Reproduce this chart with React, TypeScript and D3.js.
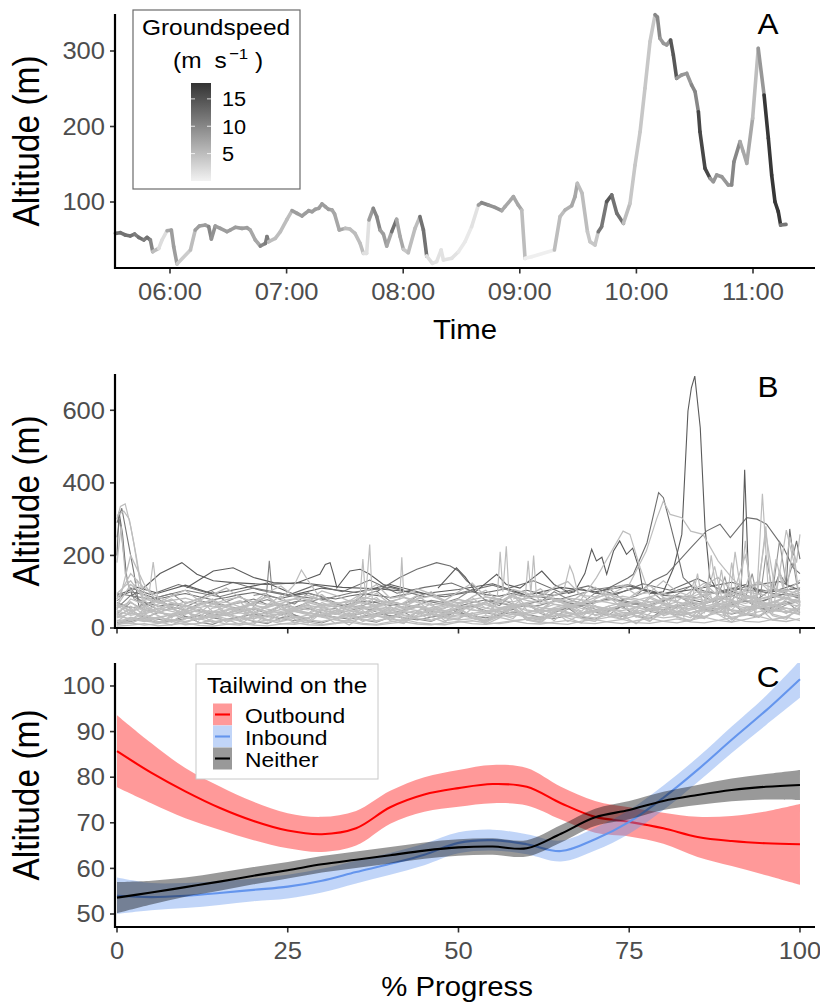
import React from 'react';
import * as d3 from 'd3';

const FONT = '"Liberation Sans", Arial, Helvetica, sans-serif';
const SX = 1.087;

// ---------------- Panel A : altitude over time (minutes after midnight) -------------
const A_TIME = [331.9,334.4,337.0,339.6,341.8,343.9,346.5,348.2,349.9,351.1,
354.2,355.9,358.5,360.7,361.9,363.6,370.5,373.0,375.1,378.2,
379.9,381.3,383.3,385.9,389.3,391.0,393.6,397.0,399.6,401.3,
403.9,406.5,409.1,409.9,410.8,414.2,416.8,420.2,422.8,425.4,
427.9,429.6,431.4,433.1,434.8,436.5,438.2,439.9,441.6,443.4,
444.7,447.1,450.1,452.6,455.2,457.8,459.5,461.2,462.4,464.6,
466.4,468.1,469.8,471.5,474.1,476.6,478.4,480.1,482.6,486.1,
488.6,490.4,492.1,495.0,497.2,499.5,500.7,505.0,508.4,511.8,
515.2,518.7,520.4,523.8,527.2,530.7,532.4,536.7,539.2,541.0,
542.7,546.1,557.8,560.7,563.3,566.7,568.4,569.6,572.0,574.8,
576.1,578.7,580.4,582.1,584.7,587.3,589.9,593.3,596.7,599.3,
601.9,604.4,607.0,609.6,610.8,612.1,613.9,615.6,617.6,619.0,
620.7,623.3,625.9,628.4,630.2,631.9,632.7,635.3,637.9,639.6,
641.3,643.9,647.3,649.0,650.2,653.3,655.0,656.8,659.8,662.7,
665.7,667.9,669.6,671.3,673.0,674.2,677.0];
const A_ALT = [58.5,59.4,56.3,55,57.6,53.2,49.7,53.2,49.7,34.2,
38.6,49.7,62,62.9,40.8,17.9,36.4,62.9,68.2,69.5,
67.3,51,68.2,65.1,60.7,62.9,66.5,65.1,66,62.9,
49.7,41.7,45.3,54.1,47.5,51.9,60.7,77,88.5,85,
81.5,85,88.5,87.2,90.3,91.6,97.4,93.8,90.3,89.4,
84.1,62.9,65.1,64.2,58.5,45.3,32,32,76.2,91.6,
80.6,62.9,57.6,41.7,60.7,77,54.1,37.3,32.9,65.1,
80.6,62.9,28.5,18.8,21,36.4,23.2,25.4,34.2,47.5,
67.3,96,99.1,96,92.9,88.5,93.8,107.1,96,89.4,
25.4,27.6,36.4,80.6,89.4,95.1,107.1,124.7,112,60.7,
47.5,43,60.7,67.3,100.4,109.3,85,71.7,98.2,149,
193.1,250.6,312.4,348,345,316.8,310.2,308,314.6,294.7,
263.8,268.2,270.4,255,246.1,219.6,193.1,144.6,131.4,126.9,
135.8,133.5,122.5,122.5,153.4,179.9,166.6,151.2,210.8,303.5,
241.7,184.3,135.8,100.4,87.2,69.5,70.4];
const A_SPEED = [12,12,12,12,11,12,11,12,10,5,
2,2,7,8,8,3.6,5,8,8,8,
10,9,8,8,8,8,8,8,8,7,
7,10,11,11,5,5,5,5,8,8,
8,8,8,8,8,8,8,8,8,7,
7,7,5,5,5,5,1.7,1.7,8,10,
10,8,8,7,12,7,7,4,5,5,
12,12,2,1.5,1.5,1.5,1.5,1.5,0.8,0.8,
1.5,8,10,9,9,7,7,7,7,5,
0.3,0.3,5,5,6,7,7,5,5,4,
4,4,11.5,11.5,14.5,12,12,5,4,4,
4,4,4,10,10,8.5,8.5,8.5,14.5,14.5,
8.5,8.5,8.5,10,10,16,16,16,8.5,8.5,
8.5,8.5,8.5,10,10,7,7,7,5,8.5,
17.5,17.5,17.5,17.5,17.5,11.5,11.5];
const A_XTICKS = [360, 420, 480, 540, 600, 660];
const A_XLABELS = ['06:00', '07:00', '08:00', '09:00', '10:00', '11:00'];
const A_YTICKS = [100, 200, 300];
const SPEED_TICKS = [5, 10, 15];

// ---------------- Panel B : all tracks, altitude vs % progress (every 2 %) ----------
const BG1 = [45,60,38,52,70,44,30,55,62,48,40,58,66,50,42,35,48,60,72,55,40,46,58,50,38,44,62,70,54,46,40,52,65,58,44,36,50,64,75,60,48,42,55,68,80,62,50,58,72,85,70];
const BG2 = [20,25,18,30,22,15,28,35,26,20,32,24,18,27,36,30,22,19,28,33,25,20,30,38,28,22,26,34,29,21,24,31,40,33,27,23,30,36,44,35,28,32,40,48,38,30,35,45,52,44,40];
const BG3 = [70,55,62,80,58,50,66,74,60,54,68,78,64,57,70,82,66,58,62,75,68,56,64,76,70,60,58,72,80,66,59,63,74,68,61,70,84,72,65,60,75,88,70,66,78,92,74,68,85,95,80];
const BG4 = [10,14,8,12,18,9,13,20,11,8,15,22,12,10,16,9,14,21,13,10,17,24,15,11,9,16,20,14,12,18,25,17,13,10,19,23,16,12,20,27,18,14,22,30,21,16,24,32,22,18,26];
const BG5 = [35,80,65,42,38,50,44,36,48,56,42,38,52,46,40,55,62,48,42,50,58,45,40,48,56,62,50,44,52,60,48,42,56,66,54,48,60,70,56,50,62,72,58,52,66,76,60,56,70,82,64];
const BG6 = [55,90,72,60,66,58,75,68,62,70,80,65,60,72,78,64,58,66,74,70,62,68,76,72,64,60,70,78,68,62,66,74,82,70,64,72,80,76,68,64,74,86,78,70,80,88,76,72,84,96,82];
const BG7 = [28,40,34,26,38,45,32,28,36,42,34,30,40,46,36,32,28,38,44,35,30,42,48,38,34,30,40,46,36,32,44,50,40,35,42,48,38,34,46,54,42,38,50,58,46,40,54,62,48,44,56];
const BG8 = [60,120,90,70,76,82,72,66,78,85,70,64,74,80,90,76,68,72,84,78,70,66,80,88,74,70,78,86,76,72,82,90,80,74,70,84,92,82,76,86,96,84,78,90,100,88,80,94,110,92,86];
const BG9 = [15,22,30,24,18,26,34,28,22,30,38,32,26,20,28,36,30,24,32,40,34,28,22,30,38,42,34,28,36,44,38,30,26,34,42,48,38,32,40,50,44,36,42,52,46,38,48,56,50,44,52];
const BG10 = [80,150,110,85,70,62,56,64,72,58,52,60,68,56,50,62,70,60,54,64,72,66,58,52,60,68,74,64,56,62,70,78,66,60,68,76,70,62,58,66,80,72,64,70,82,76,68,78,88,80,74];
const BG11 = [5,8,12,6,9,14,7,5,10,13,8,6,11,15,9,7,12,16,10,8,13,17,11,9,14,18,12,10,15,20,13,11,16,21,14,12,18,24,15,13,19,25,17,14,21,28,18,16,24,30,20];
const BG12 = [40,70,50,44,32,40,48,38,34,44,52,40,36,46,54,42,38,48,56,44,40,50,58,46,42,52,60,48,44,54,62,50,46,56,64,52,48,58,66,54,50,60,70,56,52,64,74,60,56,68,78];
const BG13 = [50,200,120,70,60,72,66,58,64,75,62,56,68,80,70,60,66,76,68,62,72,84,70,64,68,78,72,66,74,86,76,68,72,82,78,70,76,88,80,72,78,90,84,76,82,96,86,80,90,104,92];
const BG14 = [32,26,22,30,36,28,24,32,38,30,26,34,40,32,28,36,42,34,30,38,44,36,32,40,46,38,34,42,48,40,36,44,50,42,38,46,52,44,40,48,56,46,42,52,60,50,46,56,64,54,50];
const BG15 = [65,48,56,44,52,60,46,42,50,58,64,52,46,54,62,56,48,44,52,60,66,54,48,56,64,58,50,46,54,62,68,56,50,58,66,60,52,48,56,64,70,58,52,60,68,62,56,64,72,66,60];
const BG16 = [85,100,92,80,88,95,86,78,84,92,98,88,82,90,96,86,80,88,94,90,84,92,98,90,86,94,100,92,88,96,104,94,90,98,108,96,92,100,110,98,94,104,115,102,96,108,120,106,100,112,125];
const BG17 = [12,30,20,14,24,18,26,16,22,28,20,15,25,30,22,18,26,32,24,20,28,34,26,22,30,36,28,24,32,38,30,26,34,40,32,28,36,42,34,30,38,46,36,32,42,50,40,35,46,55,44];
const BG18 = [48,35,42,55,46,38,52,44,40,48,54,46,42,50,58,48,44,52,60,50,46,54,62,52,48,56,64,54,50,58,66,56,52,60,68,58,54,62,72,60,56,64,74,62,58,68,78,66,62,72,82];
const BG19 = [30,55,20,48,62,25,40,70,35,22,58,44,18,50,66,30,42,75,28,36,60,20,46,68,32,24,54,72,38,26,62,48,20,56,78,34,44,70,30,52,84,40,28,64,90,46,36,72,58,40,66];
const BG20 = [8,22,40,15,30,52,12,26,45,18,10,38,60,24,14,42,28,8,34,56,20,12,46,30,16,50,36,10,28,58,22,14,44,64,26,18,52,34,12,40,68,30,20,56,38,16,48,72,34,24,60];
const BG21 = [62,38,75,50,28,66,82,45,58,72,36,64,88,52,40,70,56,32,68,84,48,60,76,42,54,80,64,38,72,90,50,44,78,62,36,70,86,54,48,82,66,40,74,94,58,50,86,70,46,80,98];
const BG22 = [18,45,26,12,34,50,22,40,16,30,48,20,36,14,28,52,24,42,18,32,54,26,44,20,36,58,28,16,40,60,30,22,46,18,38,62,32,24,50,20,42,66,34,26,54,22,46,70,38,28,56];
const BG23 = [75,110,60,85,95,68,80,100,72,88,60,92,78,66,96,84,70,58,90,102,74,64,88,98,70,82,106,76,62,94,86,72,100,80,68,96,110,78,88,104,74,92,116,84,70,100,90,82,108,96,88];
const BG24 = [40,20,52,34,16,44,58,28,38,54,24,46,62,30,18,50,40,26,56,36,22,48,64,32,42,58,28,20,52,68,36,26,54,44,30,60,38,24,58,72,34,46,62,28,50,74,40,32,64,48,36];
const BG25 = [22,12,30,18,8,26,40,16,24,10,34,20,44,14,28,38,12,22,48,18,30,14,36,52,20,26,42,16,32,56,22,18,40,28,14,46,60,24,34,18,50,30,20,44,64,26,38,56,22,32,48];
const BG26 = [55,72,44,66,80,50,62,76,40,58,70,86,52,46,74,64,38,60,82,56,48,70,90,62,44,66,84,54,72,94,60,50,78,68,46,80,96,64,56,86,70,52,84,100,66,58,90,76,62,92,104];
const BG27 = [35,50,28,42,56,32,24,46,38,52,30,44,60,36,26,48,54,34,40,58,30,46,62,38,28,50,64,42,34,56,68,40,30,52,60,44,36,62,72,46,38,58,66,50,42,70,78,54,46,64,74];
const BG28 = [95,130,80,70,88,104,76,92,110,84,72,98,116,86,78,102,90,74,96,120,82,88,108,94,76,100,124,86,80,106,96,84,112,128,90,86,104,118,92,98,130,100,88,116,140,104,94,126,110,100,132];
const BG29 = [12,18,26,14,20,32,16,10,24,30,18,12,28,36,20,14,26,40,22,16,30,44,24,18,34,48,26,20,38,52,28,22,42,56,30,24,46,60,32,26,50,64,34,28,54,70,38,30,58,74,42];
const BG30 = [68,45,58,76,52,40,64,80,56,46,70,88,60,50,74,92,62,54,78,96,66,56,82,100,70,60,86,104,72,62,88,108,76,66,92,112,80,70,96,118,84,74,100,124,88,78,106,130,92,82,112];

const C1_X = [0,3,6,10,14,18,22,26,30,35,40,45,50,55,60,65,70,75,80,85,90,95,100];
const C1_Y = [90,112,96,118,94,108,124,92,110,98,120,95,106,122,90,112,100,116,94,108,126,98,110];
const C2_X = [2,5,9,13,17,21,25,29,33,37,41,45,49,53,57,61,65,69,73,77,81,85,89,93,97,100];
const C2_Y = [110,92,120,98,126,104,90,118,100,132,96,112,124,94,108,130,98,116,92,122,104,136,100,118,128,104];
const C3_X = [0,5,10,15,20,25,30,35,40,45,50,55,60,65,70,75,80,85,90,95,100];
const C3_Y = [95,80,104,86,110,92,78,100,112,86,96,118,88,80,106,120,90,84,110,98,86];

const S1_X = [0,0.5,1.2,2,2.8,3.5,4.5,6,8];
const S1_Y = [300,335,342,280,200,120,80,60,55];
const S2_X = [0,0.7,1.5,2.5,3.2,4,6];
const S2_Y = [290,330,250,150,60,70,50];
const S3_X = [0,1,1.8,2.5,3,4,5.5];
const S3_Y = [310,322,300,230,170,60,45];
const S4_X = [0,0.4,1,1.6,2.5,3.5];
const S4_Y = [250,300,200,120,80,70];
const S5_X = [0,0.6,1.2,2,3,4.2];
const S5_Y = [180,280,150,100,130,40];
const S6_X = [0,0.3,0.8,1.4,2.2,3];
const S6_Y = [200,320,260,140,90,100];

const D1_X = [3.4,6.3,9.5,11.7,14.1,17,21.9,26.8,29.2,33,38,43];
const D1_Y = [102,150,180,148,130,125,120,125,120,112,108,100];
const D2_X = [10.2,14.1,17,20,22.9,26,29.7,30.5,31.2,31.7,32.2,34.1,35.6,37,39,42];
const D2_Y = [111,157,166,139,125,122,148,175,180,148,111,157,162,148,120,105];
const D3_X = [38,41.4,43.9,46.8,48.8,50,51.2,53];
const D3_Y = [100,139,162,180,171,157,130,105];
const D4_X = [47,49.7,51,52.5,55.6,57,59,62.2,64,66];
const D4_Y = [110,166,140,100,148,120,110,157,120,100];
const D5_X = [66,67,68.5,69.5,70.2,71,71.7,72.7,73.6,74.6,75.5,76.5,77,79];
const D5_Y = [95,100,150,217,185,195,148,212,240,203,220,160,105,95];
const L380_X = [70,72,74.8,75.6,77.6,79.3,80,81,82,82.9,85,88];
const L380_Y = [95,110,138,148,235,373,359,286,212,139,100,95];
const PEAK_X = [78,80,81.5,82.7,83.6,84.1,84.6,85.4,86.1,86.8,88,90];
const PEAK_Y = [95,100,166,258,598,662,694,552,276,139,100,95];
const PLAT_X = [72,75,77.5,79,80,81,82.7,84,85.8,88,90,92,95];
const PLAT_Y = [90,120,212,300,350,313,304,267,258,185,139,100,90];
const RISE_X = [76,78.5,80.5,84,86.3,88.3,89.8,92.2,93.7,95.1,97.6,99,100];
const RISE_Y = [90,130,148,221,267,286,249,304,300,286,221,166,150];
const SPK_X = [90,91.4,91.9,92.5,94];
const SPK_Y = [100,110,436,120,95];
const LB74_X = [68,70.2,72.7,74.1,75.1,76.6,78];
const LB74_Y = [80,139,221,267,258,166,90];
const LB66_X = [63,65.4,66.3,66.8,67.5,69];
const LB66_Y = [80,102,171,148,95,80];
const R1_X = [84,85,86,87,88,89,90,91,92,93,94,95,96,97,98,99,100];
const R1_Y = [60,150,40,200,70,30,180,60,240,50,120,280,40,160,90,230,60];
const R2_X = [85.5,86.5,87.5,88.5,89.5,90.5,91.5,92.5,93.5,94.5,95.5,96.5,97.5,98.5,99.5,100];
const R2_Y = [30,120,50,160,40,210,80,140,30,370,60,190,110,250,180,258];
const R3_X = [80,81.5,83,84.5,86,87.5,89,90.5,92,93.5,95,96.5,98,99.5];
const R3_Y = [40,90,30,130,60,170,45,110,200,70,260,90,270,150];
const R4_X = [88,89,90,91,92,93,94,95,96,97,98,99,100];
const R4_Y = [90,140,70,120,80,150,60,200,100,240,120,180,70];
const R5_X = [96,97,98,98.5,99,99.5,100];
const R5_Y = [100,150,120,273,200,240,190];
const SP1_X = [3,4.6,5.3,6,8];
const SP1_Y = [70,80,182,75,60];
const SP2_X = [20,21.9,22.3,22.7,25];
const SP2_Y = [90,95,185,100,92];
const SP3_X = [34,35.6,36,36.4,37,37.4,38,40];
const SP3_Y = [60,90,190,80,230,70,60,55];
const SP4_X = [39,41.4,41.7,42,44];
const SP4_Y = [70,80,195,85,75];
const SP5_X = [53,55.7,56.1,56.5,57,57.4,58];
const SP5_Y = [60,90,210,100,225,90,70];
const SP6_X = [58,59.8,60.2,60.6,61,61.4,62];
const SP6_Y = [80,90,185,95,200,90,70];
const SP7_X = [24,26,27,28,29.5];
const SP7_Y = [80,120,160,130,90];
const B_YTICKS = [0, 200, 400, 600];
const P_TICKS = [0, 25, 50, 75, 100];

// ---------------- Panel C : smoothed altitude by tailwind group -------------------
const C_PROG = [0,5,10,15,20,25,30,35,40,45,50,55,60,65,70,75,80,85,90,95,100];
const OUT_FIT = [85.7,81,76.9,73.3,70.4,68.3,67.5,68.8,73.4,76.2,77.6,78.5,77.9,74.3,71.3,70.2,68.8,66.9,66,65.5,65.3];
const OUT_HI = [93.6,87.5,82,78,74.6,72.1,71.3,72.6,77,80,81.6,82.7,82,77.9,74.8,73.4,72.2,71.3,71.5,72.5,74.1];
const OUT_LO = [77.8,74.3,71,68.5,66.2,64.4,63.6,65,69.8,72.4,73.5,74.3,73.8,70.7,67.8,67,65.4,62.5,60.5,58.5,56.4];
const IN_FIT = [54,53.7,54,54.6,55.3,56,57.3,59.2,61,63,65.6,66.2,65.3,63.8,66.4,70.2,75.5,81.6,88.2,94.6,101.5];
const IN_HI = [58,56.8,56.8,57.2,57.8,58.6,59.9,61.7,63.4,65.4,67.9,68.5,67.5,66.1,68.9,72.8,78.2,84.3,91.1,97.8,105.6];
const IN_LO = [50,50.8,51.3,52,52.8,53.4,54.7,56.7,58.6,60.7,63.3,63.9,63.1,61.5,63.9,67.6,72.8,78.9,85.3,91.4,97.4];
const NE_FIT = [53.6,54.7,55.9,57.1,58.4,59.6,60.9,61.9,62.9,63.9,64.6,64.8,64.4,67.6,71.2,72.8,74.8,76.1,77.2,77.9,78.3];
const NE_HI = [57,57.3,58,59.1,60.3,61.4,62.7,63.7,64.7,65.7,66.4,66.6,66.2,69.5,73.1,74.8,76.8,78.3,79.7,80.7,81.6];
const NE_LO = [50.2,52.1,53.8,55.1,56.5,57.8,59.1,60.1,61.1,62.1,62.8,63,62.6,65.7,69.3,70.8,72.8,73.9,74.7,75.1,75];
const C_YTICKS = [50, 60, 70, 80, 90, 100];
const GROUPS = ['Outbound', 'Inbound', 'Neither'];

function T({ x, y, size, anchor = 'start', fill = '#000', rot = 0, children }: any) {
  return (
    <text
      transform={`translate(${x},${y}) scale(${SX},1)${rot ? ` rotate(${rot})` : ''}`}
      fontSize={size}
      textAnchor={anchor}
      fill={fill}
      fontFamily={FONT}
      style={{ whiteSpace: 'pre' }}
    >
      {children}
    </text>
  );
}

const L = 115, R = 815;

function YAxis({ scale, ticks, top, bottom }: any) {
  return (
    <g>
      {ticks.map((t: number, i: number) => (
        <g key={i}>
          <line x1={L - 5} x2={L} y1={scale(t)} y2={scale(t)} stroke="#333" strokeWidth={1.6} />
          <T x={L - 10} y={scale(t) + 8.3} size={23.5} anchor="end" fill="#4d4d4d">{String(t)}</T>
        </g>
      ))}
      <line x1={L} x2={L} y1={top} y2={bottom + 1} stroke="#000" strokeWidth={2.2} />
    </g>
  );
}

function XAxis({ scale, ticks, labels, y }: any) {
  return (
    <g>
      {ticks.map((t: number, i: number) => (
        <g key={i}>
          <line x1={scale(t)} x2={scale(t)} y1={y} y2={y + 5.5} stroke="#333" strokeWidth={1.6} />
          {labels && <T x={scale(t)} y={y + 32} size={23.5} anchor="middle" fill="#4d4d4d">{labels[i]}</T>}
        </g>
      ))}
      <line x1={L - 1} x2={R} y1={y} y2={y} stroke="#000" strokeWidth={2.2} />
    </g>
  );
}

export default function App() {
  const xA = d3.scaleLinear().domain([331.7, 691.9]).range([L, R]);
  const yA = d3.scaleLinear().domain([12.6, 349]).range([268, 14]);
  const colA = d3.scaleLinear<string>().domain([0, 17.9]).range(['#f2f2f2', '#333333']).interpolate(d3.interpolateRgb);
  const yLeg = d3.scaleLinear().domain([0, 17.9]).range([181, 83]);
  const xP = d3.scaleLinear().domain([-0.293, 102.2]).range([L, R]);
  const yB = d3.scaleLinear().domain([0, 700]).range([628, 374]);
  const yC = d3.scaleLinear().domain([47.15, 105.04]).range([927, 663]);

  const segs = A_TIME.slice(0, -1).map((t, i) => ({
    x1: xA(t), y1: yA(A_ALT[i]), x2: xA(A_TIME[i + 1]), y2: yA(A_ALT[i + 1]), c: colA(A_SPEED[i]),
  }));

  const P2 = d3.range(0, 101, 2);
  const LIGHT = '#bdbdbd', MID = '#939393', DARK = '#5a5a5a', DARK2 = '#6e6e6e';
  const bgSeries: [number[], string][] = [
    [BG3, '#8f8f8f'], [BG6, '#7d7d7d'], [BG9, '#8a8a8a'], [BG12, '#9a9a9a'], [BG16, '#6e6e6e'],
    [BG27, '#9a9a9a'], [BG29, '#8c8c8c'], [BG23, '#8a8a8a'],
  ];
  const bgLight: number[][] = [BG1, BG2, BG4, BG5, BG7, BG8, BG10, BG11, BG13, BG14, BG15, BG17, BG18,
    BG19, BG20, BG21, BG22, BG24, BG25, BG26, BG28, BG30];
  const lineB = d3.line<[number, number]>().x(d => xP(d[0])).y(d => yB(d[1]));
  const mk = (xs: number[], ys: number[]) => lineB(xs.map((x, i) => [x, ys[i]] as [number, number])) || '';
  const darkLines: [number[], number[], string][] = [
    [C1_X, C1_Y, DARK], [C2_X, C2_Y, DARK2], [C3_X, C3_Y, '#7a7a7a'],
    [D1_X, D1_Y, DARK], [D2_X, D2_Y, DARK], [D3_X, D3_Y, DARK2], [D4_X, D4_Y, DARK],
    [D5_X, D5_Y, DARK], [L380_X, L380_Y, DARK2], [PEAK_X, PEAK_Y, DARK], [RISE_X, RISE_Y, DARK2],
    [SPK_X, SPK_Y, DARK], [S2_X, S2_Y, '#777'], [S4_X, S4_Y, MID], [S6_X, S6_Y, DARK2],
    [R4_X, R4_Y, MID], [R5_X, R5_Y, DARK2], [SP2_X, SP2_Y, '#808080'],
  ];
  const lightLines: [number[], number[]][] = [
    [S1_X, S1_Y], [S3_X, S3_Y], [S5_X, S5_Y], [PLAT_X, PLAT_Y], [LB74_X, LB74_Y], [LB66_X, LB66_Y],
    [R1_X, R1_Y], [R2_X, R2_Y], [R3_X, R3_Y], [SP1_X, SP1_Y], [SP3_X, SP3_Y], [SP4_X, SP4_Y],
    [SP5_X, SP5_Y], [SP6_X, SP6_Y], [SP7_X, SP7_Y],
  ];

  const curve = d3.curveCatmullRom.alpha(0.5);
  const area = (lo: number[], hi: number[]) =>
    d3.area<number>().x((_, i) => xP(C_PROG[i])).y0((_, i) => yC(lo[i])).y1((_, i) => yC(hi[i])).curve(curve)(C_PROG) || '';
  const line = (fit: number[]) =>
    d3.line<number>().x((_, i) => xP(C_PROG[i])).y((_, i) => yC(fit[i])).curve(curve)(C_PROG) || '';
  const groupsC = [
    { name: GROUPS[0], lo: OUT_LO, hi: OUT_HI, fit: OUT_FIT, fill: '#ff0000', col: '#ff0000' },
    { name: GROUPS[1], lo: IN_LO, hi: IN_HI, fit: IN_FIT, fill: '#6495ed', col: '#6495ed' },
    { name: GROUPS[2], lo: NE_LO, hi: NE_HI, fit: NE_FIT, fill: '#000000', col: '#000000' },
  ];

  const gradStops = d3.range(0, 11).map(i => ({ off: i / 10, c: colA((17.9 * i) / 10) }));

  return (
    <svg width={820} height={1004} style={{ position: 'absolute', left: 0, top: 0 }} fontFamily={FONT}>
      <defs>
        <linearGradient id="gsGrad" x1="0" y1="1" x2="0" y2="0">
          {gradStops.map((s, i) => <stop key={i} offset={s.off} stopColor={s.c} />)}
        </linearGradient>
        <clipPath id="clipB"><rect x={L} y={374} width={R - L} height={628 - 374} /></clipPath>
        <clipPath id="clipC"><rect x={L} y={663} width={R - L} height={927 - 663} /></clipPath>
      </defs>
      <rect x={0} y={0} width={820} height={1004} fill="#fff" />

      {/* ---------- Panel A ---------- */}
      <g>
        {segs.map((s, i) => (
          <line key={i} x1={s.x1} y1={s.y1} x2={s.x2} y2={s.y2} stroke={s.c} strokeWidth={3.6} strokeLinecap="round" />
        ))}
        <YAxis scale={yA} ticks={A_YTICKS} top={14} bottom={268} />
        <XAxis scale={xA} ticks={A_XTICKS} labels={A_XLABELS} y={268} />
        <T x={38.5} y={141} size={33.5} anchor="middle" rot={-90}>Altitude (m)</T>
        <T x={465} y={339} size={27} anchor="middle">Time</T>
        <T x={768} y={34} size={29} anchor="middle">A</T>
        <rect x={133} y={10} width={167} height={179} fill="#fff" stroke="#6b6b6b" strokeWidth={1.2} />
        <T x={216} y={35} size={22.5} anchor="middle">Groundspeed</T>
        <T x={173} y={68} size={22.5}>(m</T>
        <T x={214.5} y={68} size={22.5}>s</T>
        <T x={229} y={59} size={15.5}>−1</T>
        <T x={255} y={68} size={22.5}>)</T>
        <rect x={191} y={83} width={20} height={98} fill="url(#gsGrad)" />
        {SPEED_TICKS.map((s, i) => (
          <g key={i}>
            <line x1={191} x2={195} y1={yLeg(s)} y2={yLeg(s)} stroke="#fff" strokeWidth={1} opacity={0.8} />
            <line x1={207} x2={211} y1={yLeg(s)} y2={yLeg(s)} stroke="#fff" strokeWidth={1} opacity={0.8} />
            <T x={222} y={yLeg(s) + 7.5} size={20}>{String(s)}</T>
          </g>
        ))}
      </g>

      {/* ---------- Panel B ---------- */}
      <g clipPath="url(#clipB)" fill="none">
        {bgSeries.map(([ys, c], i) => (
          <path key={'bd' + i} d={mk(P2, ys)} stroke={c} strokeWidth={1.1} />
        ))}
        {darkLines.map(([xs, ys, c], i) => (
          <path key={'dl' + i} d={mk(xs, ys)} stroke={c} strokeWidth={1.1} />
        ))}
        {bgLight.map((ys, i) => (
          <path key={'bl' + i} d={mk(P2, ys)} stroke={LIGHT} strokeWidth={1.3} />
        ))}
        {lightLines.map(([xs, ys], i) => (
          <path key={'ll' + i} d={mk(xs, ys)} stroke={LIGHT} strokeWidth={1.2} />
        ))}
      </g>
      <YAxis scale={yB} ticks={B_YTICKS} top={374} bottom={628} />
      <XAxis scale={xP} ticks={P_TICKS} y={628} />
      <T x={38.5} y={501} size={33.5} anchor="middle" rot={-90}>Altitude (m)</T>
      <T x={768} y={397} size={29} anchor="middle">B</T>

      {/* ---------- Panel C ---------- */}
      <g clipPath="url(#clipC)">
        {groupsC.map((g, i) => (
          <g key={i}>
            <path d={area(g.lo, g.hi)} fill={g.fill} fillOpacity={0.4} stroke="none" />
            <path d={line(g.fit)} fill="none" stroke={g.col} strokeWidth={2.1} />
          </g>
        ))}
      </g>
      <YAxis scale={yC} ticks={C_YTICKS} top={663} bottom={927} />
      <XAxis scale={xP} ticks={P_TICKS} labels={P_TICKS.map(String)} y={927} />
      <T x={38.5} y={795} size={33.5} anchor="middle" rot={-90}>Altitude (m)</T>
      <T x={457} y={996} size={27} anchor="middle">% Progress</T>
      <T x={768} y={687} size={29} anchor="middle">C</T>
      <rect x={196} y={664} width={182} height={115} fill="#fff" stroke="#c8c8c8" strokeWidth={1} />
      <T x={207} y={693} size={22.3}>Tailwind on the</T>
      {groupsC.map((g, i) => {
        const y0 = 703.5 + i * 22;
        return (
          <g key={i}>
            <rect x={213} y={y0} width={19} height={22} fill="#fff" />
            <rect x={213} y={y0} width={19} height={22} fill={g.fill} fillOpacity={0.4} />
            <line x1={215} x2={230} y1={y0 + 11} y2={y0 + 11} stroke={g.col} strokeWidth={2.1} />
            <T x={245} y={y0 + 19} size={21}>{g.name}</T>
          </g>
        );
      })}
    </svg>
  );
}
